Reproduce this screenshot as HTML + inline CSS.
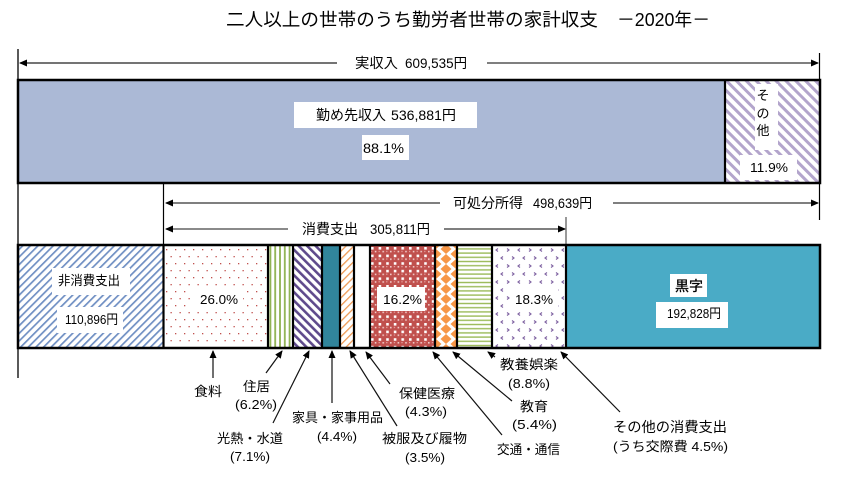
<!DOCTYPE html>
<html><head><meta charset="utf-8"><style>
html,body{margin:0;padding:0;background:#fff;}
svg{display:block;}
text{font-family:"Liberation Sans","Noto Sans CJK JP",sans-serif;fill:#000;}
</style></head><body>
<svg width="846" height="480" viewBox="0 0 846 480" xmlns="http://www.w3.org/2000/svg">
<defs>
<marker id="ah" markerUnits="userSpaceOnUse" markerWidth="8" markerHeight="7" refX="7" refY="3.5" orient="auto">
<path d="M0,0 L8,3.5 L0,7 z" fill="#000"/>
</marker>
<pattern id="pBlue" patternUnits="userSpaceOnUse" width="5.4" height="5.4" patternTransform="rotate(45)">
<rect width="5.4" height="5.4" fill="#fff"/><rect x="0" y="0" width="1.7" height="5.4" fill="#6f8fc3"/>
</pattern>
<pattern id="pLav" patternUnits="userSpaceOnUse" width="7" height="7" patternTransform="rotate(-45)">
<rect width="7" height="7" fill="#fff"/><rect x="0" y="0" width="3" height="7" fill="#b3a5cc"/>
</pattern>
<pattern id="pPur" patternUnits="userSpaceOnUse" width="6" height="6" patternTransform="rotate(-45)">
<rect width="6" height="6" fill="#fff"/><rect x="0" y="0" width="2.6" height="6" fill="#5f4a8c"/>
</pattern>
<pattern id="pOr" patternUnits="userSpaceOnUse" width="5.5" height="5.5" patternTransform="rotate(45)">
<rect width="5.5" height="5.5" fill="#fff"/><rect x="0" y="0" width="1.3" height="5.5" fill="#ee9a55"/>
</pattern>
<pattern id="pDots" patternUnits="userSpaceOnUse" x="164" y="247" width="9" height="14">
<rect width="9" height="14" fill="#fff"/><rect x="2" y="2" width="1.3" height="1.3" fill="#c0504d"/><rect x="6.5" y="9" width="1.3" height="1.3" fill="#c0504d"/>
</pattern>
<pattern id="pGreenV" patternUnits="userSpaceOnUse" x="268" y="0" width="4.8" height="10">
<rect width="4.8" height="10" fill="#fff"/><rect x="1.5" y="0" width="1.8" height="10" fill="#8fb252"/>
</pattern>
<pattern id="pGreenH" patternUnits="userSpaceOnUse" x="0" y="247" width="10" height="4.2">
<rect width="10" height="4.2" fill="#fff"/><rect x="0" y="1.2" width="10" height="1.4" fill="#9bbb59"/>
</pattern>
<pattern id="pRed" patternUnits="userSpaceOnUse" x="371" y="247" width="7.6" height="7.6">
<rect width="7.6" height="7.6" fill="#c0504d"/>
<rect x="0" y="0" width="2.6" height="2.6" fill="#fff"/>
<rect x="3.8" y="3.8" width="1.6" height="1.6" fill="#f0c8c6"/>
<rect x="0" y="3.8" width="1.2" height="1.2" fill="#e8a8a6"/>
</pattern>
<pattern id="pDia" patternUnits="userSpaceOnUse" x="436" y="244" width="20" height="10">
<rect width="20" height="10" fill="#fff"/>
<polygon points="10,0 15.5,5 10,10 4.5,5" fill="#f79646"/>
<polygon points="0,-5 5.5,0 0,5 -5.5,0" fill="#f79646"/>
<polygon points="20,-5 25.5,0 20,5 14.5,0" fill="#f79646"/>
<polygon points="0,5 5.5,10 0,15 -5.5,10" fill="#f79646"/>
<polygon points="20,5 25.5,10 20,15 14.5,10" fill="#f79646"/>
</pattern>
<pattern id="pChev" patternUnits="userSpaceOnUse" x="493" y="247" width="22" height="16">
<rect width="22" height="16" fill="#fff"/>
<polyline points="5,1.5 3,3 5,4.5" fill="none" stroke="#8064a2" stroke-width="1.1"/>
<polyline points="14,1.5 16,3 14,4.5" fill="none" stroke="#8064a2" stroke-width="1.1"/>
<polyline points="10,9.5 8,11 10,12.5" fill="none" stroke="#8064a2" stroke-width="1.1"/>
<polyline points="19,9.5 21,11 19,12.5" fill="none" stroke="#8064a2" stroke-width="1.1"/>
</pattern>
</defs>

<!-- Title -->
<text x="226" y="26" font-size="18" textLength="372" lengthAdjust="spacingAndGlyphs">二人以上の世帯のうち勤労者世帯の家計収支</text>
<text x="617" y="26" font-size="18" textLength="93" lengthAdjust="spacingAndGlyphs">－2020年－</text>

<!-- guide vertical lines -->
<line x1="18" y1="49" x2="18" y2="378" stroke="#000" stroke-width="1.3"/>
<line x1="819.5" y1="53" x2="819.5" y2="80" stroke="#000" stroke-width="1.2"/>
<line x1="819.5" y1="183" x2="819.5" y2="220" stroke="#000" stroke-width="1.2"/>
<line x1="163.5" y1="183" x2="163.5" y2="245" stroke="#000" stroke-width="1.2"/>
<line x1="566" y1="217" x2="566" y2="245" stroke="#555" stroke-width="1.2"/>

<!-- 実収入 arrow -->
<line x1="337" y1="63" x2="20" y2="63" stroke="#222" stroke-width="1.3" marker-end="url(#ah)"/>
<line x1="487" y1="63" x2="818" y2="63" stroke="#333" stroke-width="1.3" marker-end="url(#ah)"/>
<text x="355" y="68" font-size="14" textLength="43" lengthAdjust="spacingAndGlyphs">実収入</text>
<text x="405" y="68" font-size="14" textLength="62" lengthAdjust="spacingAndGlyphs">609,535円</text>

<!-- top bar -->
<rect x="18" y="80" width="707" height="103" fill="#abb9d6"/>
<rect x="725" y="80" width="95" height="103" fill="url(#pLav)"/>
<rect x="18" y="80" width="802" height="103" fill="none" stroke="#000" stroke-width="2.5"/>
<line x1="725" y1="80" x2="725" y2="183" stroke="#000" stroke-width="2.2"/>

<rect x="294" y="102" width="183" height="26" fill="#fff"/>
<text x="316" y="120" font-size="14" textLength="70" lengthAdjust="spacingAndGlyphs">勤め先収入</text>
<text x="391" y="120" font-size="14" textLength="65" lengthAdjust="spacingAndGlyphs">536,881円</text>
<rect x="362" y="135" width="47" height="25" fill="#fff"/>
<text x="363" y="153" font-size="14" textLength="41" lengthAdjust="spacingAndGlyphs">88.1%</text>

<rect x="755" y="84" width="23" height="66" fill="#fff"/>
<text x="763" y="100" font-size="13" text-anchor="middle">そ</text>
<text x="763" y="118" font-size="13" text-anchor="middle">の</text>
<text x="763" y="135" font-size="13" text-anchor="middle">他</text>
<rect x="740" y="155" width="57" height="25" fill="#fff"/>
<text x="750" y="172" font-size="13" textLength="38" lengthAdjust="spacingAndGlyphs">11.9%</text>

<!-- 可処分所得 arrow -->
<line x1="440" y1="203" x2="166" y2="203" stroke="#333" stroke-width="1.3" marker-end="url(#ah)"/>
<line x1="613" y1="203" x2="818" y2="203" stroke="#333" stroke-width="1.3" marker-end="url(#ah)"/>
<text x="453" y="208" font-size="14" textLength="70" lengthAdjust="spacingAndGlyphs">可処分所得</text>
<text x="533" y="208" font-size="14" textLength="59" lengthAdjust="spacingAndGlyphs">498,639円</text>

<!-- 消費支出 arrow -->
<line x1="288" y1="229" x2="166" y2="229" stroke="#444" stroke-width="1.3" marker-end="url(#ah)"/>
<line x1="444" y1="229" x2="565" y2="229" stroke="#333" stroke-width="1.3" marker-end="url(#ah)"/>
<text x="302" y="234" font-size="14" textLength="56" lengthAdjust="spacingAndGlyphs">消費支出</text>
<text x="370" y="234" font-size="14" textLength="60" lengthAdjust="spacingAndGlyphs">305,811円</text>

<!-- bottom bar segments -->
<rect x="18" y="245" width="145" height="103" fill="url(#pBlue)"/>
<rect x="163" y="245" width="105" height="103" fill="url(#pDots)"/>
<rect x="268" y="245" width="25" height="103" fill="url(#pGreenV)"/>
<rect x="293" y="245" width="29" height="103" fill="url(#pPur)"/>
<rect x="322" y="245" width="18" height="103" fill="#31859c"/>
<rect x="340" y="245" width="14" height="103" fill="url(#pOr)"/>
<rect x="354" y="245" width="16" height="103" fill="#fff"/>
<rect x="370" y="245" width="65" height="103" fill="url(#pRed)"/>
<rect x="435" y="245" width="22" height="103" fill="url(#pDia)"/>
<rect x="457" y="245" width="35" height="103" fill="url(#pGreenH)"/>
<rect x="492" y="245" width="74" height="103" fill="url(#pChev)"/>
<rect x="566" y="245" width="254" height="103" fill="#4aabc6"/>
<rect x="18" y="245" width="802" height="103" fill="none" stroke="#000" stroke-width="2.5"/>
<g stroke="#000" stroke-width="2.2">
<line x1="163.5" y1="245" x2="163.5" y2="348"/>
<line x1="268" y1="245" x2="268" y2="348"/>
<line x1="293" y1="245" x2="293" y2="348"/>
<line x1="322" y1="245" x2="322" y2="348"/>
<line x1="340" y1="245" x2="340" y2="348"/>
<line x1="354" y1="245" x2="354" y2="348"/>
<line x1="370" y1="245" x2="370" y2="348"/>
<line x1="435" y1="245" x2="435" y2="348"/>
<line x1="457" y1="245" x2="457" y2="348"/>
<line x1="492" y1="245" x2="492" y2="348"/>
<line x1="566" y1="245" x2="566" y2="348"/>
</g>

<!-- bar labels -->
<rect x="52" y="268" width="78" height="27" fill="#fff"/>
<text x="58" y="285" font-size="13" textLength="62" lengthAdjust="spacingAndGlyphs">非消費支出</text>
<rect x="57" y="307" width="66" height="26" fill="#fff"/>
<text x="65" y="324" font-size="13" textLength="53" lengthAdjust="spacingAndGlyphs">110,896円</text>
<rect x="193" y="289" width="50" height="21" fill="#fff"/>
<text x="200" y="304" font-size="13" textLength="38" lengthAdjust="spacingAndGlyphs">26.0%</text>
<rect x="377" y="287" width="48" height="24" fill="#fff"/>
<text x="383" y="304" font-size="13" textLength="39" lengthAdjust="spacingAndGlyphs">16.2%</text>
<rect x="510" y="288" width="48" height="22" fill="#fff"/>
<text x="515" y="304" font-size="13" textLength="38" lengthAdjust="spacingAndGlyphs">18.3%</text>
<rect x="670" y="274" width="37" height="23" fill="#fff"/>
<text x="675" y="291" font-size="14" textLength="28" lengthAdjust="spacingAndGlyphs" stroke="#000" stroke-width="0.3">黒字</text>
<rect x="656" y="302" width="72" height="26" fill="#fff"/>
<text x="667" y="318" font-size="13" textLength="54" lengthAdjust="spacingAndGlyphs">192,828円</text>

<!-- callout arrows -->
<g stroke="#111" stroke-width="1.2" fill="none">
<line x1="213" y1="378" x2="213" y2="351" marker-end="url(#ah)"/>
<line x1="266" y1="373" x2="282" y2="351" marker-end="url(#ah)"/>
<line x1="273" y1="423" x2="309" y2="351" marker-end="url(#ah)"/>
<line x1="332" y1="403" x2="332" y2="351" marker-end="url(#ah)"/>
<line x1="397" y1="426" x2="350" y2="351" marker-end="url(#ah)"/>
<line x1="390" y1="384" x2="366" y2="352" marker-end="url(#ah)"/>
<line x1="502" y1="435" x2="433" y2="352" marker-end="url(#ah)"/>
<line x1="512" y1="401" x2="453" y2="352" marker-end="url(#ah)"/>
<line x1="495" y1="357" x2="488" y2="352" marker-end="url(#ah)"/>
<line x1="620" y1="412" x2="561" y2="352" marker-end="url(#ah)"/>
</g>

<!-- callout labels -->
<g font-size="13">
<text x="194" y="396" textLength="28" lengthAdjust="spacingAndGlyphs">食料</text>
<text x="243" y="391" textLength="27" lengthAdjust="spacingAndGlyphs">住居</text>
<text x="235" y="409" textLength="42" lengthAdjust="spacingAndGlyphs">(6.2%)</text>
<text x="217" y="443" textLength="66" lengthAdjust="spacingAndGlyphs">光熱・水道</text>
<text x="230" y="461" textLength="40" lengthAdjust="spacingAndGlyphs">(7.1%)</text>
<text x="292" y="422" textLength="91" lengthAdjust="spacingAndGlyphs">家具・家事用品</text>
<text x="317" y="441" textLength="40" lengthAdjust="spacingAndGlyphs">(4.4%)</text>
<text x="399" y="398" textLength="56" lengthAdjust="spacingAndGlyphs">保健医療</text>
<text x="405" y="416" textLength="42" lengthAdjust="spacingAndGlyphs">(4.3%)</text>
<text x="382" y="443" textLength="85" lengthAdjust="spacingAndGlyphs">被服及び履物</text>
<text x="405" y="462" textLength="40" lengthAdjust="spacingAndGlyphs">(3.5%)</text>
<text x="500" y="369" textLength="58" lengthAdjust="spacingAndGlyphs">教養娯楽</text>
<text x="508" y="388" textLength="42" lengthAdjust="spacingAndGlyphs">(8.8%)</text>
<text x="520" y="411" textLength="28" lengthAdjust="spacingAndGlyphs">教育</text>
<text x="512" y="429" textLength="45" lengthAdjust="spacingAndGlyphs">(5.4%)</text>
<text x="497" y="454" textLength="63" lengthAdjust="spacingAndGlyphs">交通・通信</text>
<text x="613" y="432" font-size="14" textLength="114" lengthAdjust="spacingAndGlyphs">その他の消費支出</text>
<text x="613" y="451" textLength="115" lengthAdjust="spacingAndGlyphs">(うち交際費 4.5%)</text>
</g>
</svg>
</body></html>
